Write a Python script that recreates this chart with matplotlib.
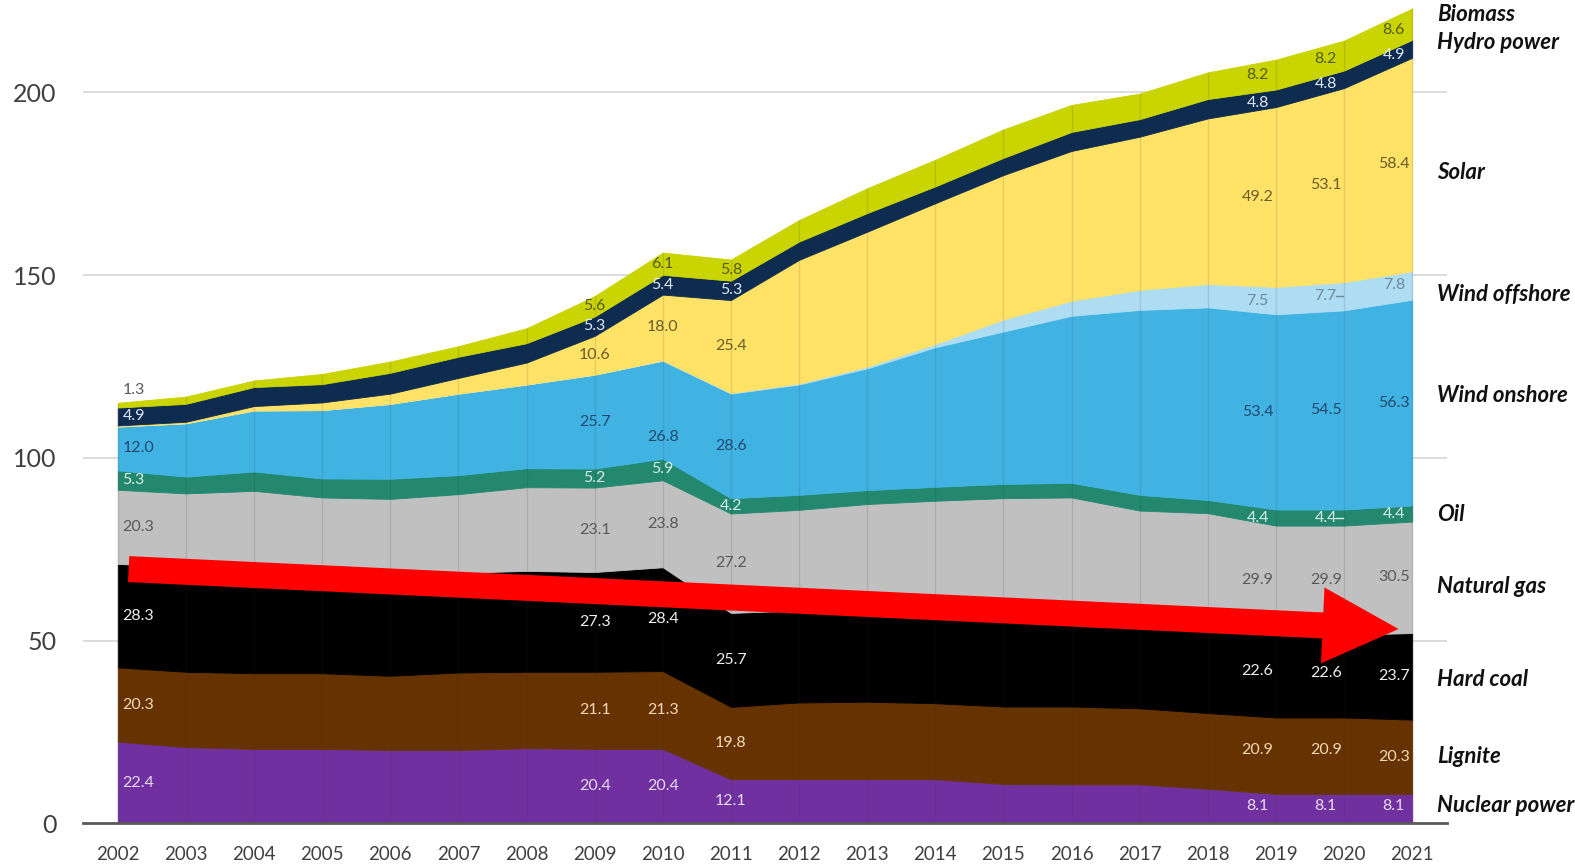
import numpy as np
import matplotlib
matplotlib.use("Agg")
import matplotlib.pyplot as plt

# Installed net generation capacity in Germany (GW)
years = list(range(2002, 2022))
nuclear = [22.4, 20.9, 20.4, 20.4, 20.1, 20.1, 20.6, 20.4, 20.4, 12.1,
           12.1, 12.1, 12.1, 10.8, 10.7, 10.7, 9.5, 8.1, 8.1, 8.1]
lignite = [20.3, 20.6, 20.7, 20.7, 20.3, 21.2, 20.9, 21.1, 21.3, 19.8,
           21.0, 21.2, 20.8, 21.2, 21.3, 20.8, 20.7, 20.9, 20.9, 20.3]
hard_coal = [28.3, 28.8, 28.7, 28.4, 28.8, 27.3, 27.6, 27.3, 28.4, 25.7,
             25.2, 25.2, 25.1, 25.0, 24.0, 23.0, 23.0, 22.6, 22.6, 23.7]
natural_gas = [20.3, 20.0, 21.2, 19.7, 19.6, 21.5, 22.9, 23.1, 23.8, 27.2,
               27.5, 28.9, 30.3, 32.0, 33.2, 31.1, 31.7, 29.9, 29.9, 30.5]
oil = [5.3, 4.6, 5.3, 5.2, 5.5, 5.2, 5.2, 5.2, 5.9, 4.2,
       4.1, 3.8, 3.8, 3.9, 4.0, 4.3, 3.6, 4.4, 4.4, 4.4]
wind_onshore = [12.0, 14.6, 16.7, 18.7, 20.5, 22.3, 22.9, 25.7, 26.8, 28.6,
                30.2, 33.3, 38.2, 41.7, 45.7, 50.6, 52.7, 53.4, 54.5, 56.3]
wind_offshore = [0.0, 0.0, 0.0, 0.0, 0.0, 0.0, 0.0, 0.0, 0.1, 0.2,
                 0.3, 0.5, 0.9, 3.3, 4.1, 5.5, 6.4, 7.5, 7.7, 7.8]
solar = [0.3, 0.4, 1.2, 2.1, 2.8, 4.3, 6.0, 10.6, 18.0, 25.4,
         33.8, 36.9, 38.5, 39.5, 41.0, 41.9, 45.3, 49.2, 53.1, 58.4]
hydro = [4.9, 4.9, 5.2, 5.0, 5.7, 5.8, 5.3, 5.3, 5.4, 5.3,
         5.0, 5.1, 4.6, 4.7, 5.2, 4.8, 5.3, 4.8, 4.8, 4.9]
biomass = [1.3, 2.0, 1.8, 2.8, 3.1, 2.9, 4.1, 5.6, 6.1, 5.8,
           5.9, 6.8, 7.3, 7.8, 7.4, 7.0, 7.3, 8.2, 8.2, 8.6]

names = ["Nuclear power", "Lignite", "Hard coal", "Natural gas", "Oil",
         "Wind onshore", "Wind offshore", "Solar", "Hydro power", "Biomass"]
series = [nuclear, lignite, hard_coal, natural_gas, oil,
          wind_onshore, wind_offshore, solar, hydro, biomass]
fill_colors = ["#7030A0", "#663300", "#000000", "#C0C0C0", "#23886E",
               "#41B3E3", "#AEDCF2", "#FFE266", "#0E2B50", "#C9D400"]
label_colors = ["#E6DCF2", "#F3D8BA", "#EEEEEE", "#595959", "#D6EEE5",
                "#22496E", "#6F8A9A", "#6A5C2C", "#DDE7F3", "#565C16"]
label_years = [2002, 2009, 2010, 2011, 2019, 2020, 2021]
tick_values = [0, 50, 100, 150, 200]

# right-hand category captions (y in GW units)
caption_y = [4.9, 18.4, 39.5, 64.8, 84.6, 117.0, 144.8, 178.0, 213.8, 221.2]

plt.rcParams["font.family"] = ["Lato", "DejaVu Sans"]

fig = plt.figure(figsize=(15.75, 8.65), dpi=100)
ax = fig.add_axes([0.0527, 0.048, 0.866, 0.952])

data = np.array(series, dtype=float)
x = np.array(years, dtype=float)
ax.stackplot(x, data, colors=fill_colors, linewidth=0.6,
             edgecolor="face", zorder=2)

tops = np.cumsum(data, axis=0)
bottoms = tops - data
totals = tops[-1]

# faint drop lines at each year
ax.vlines(x, 0, totals, colors="#303030", alpha=0.13, linewidth=1.0, zorder=3)

# value labels
x_shift = {2002: 0.07, 2009: 0.0, 2010: 0.0, 2011: 0.0,
           2019: -0.27, 2020: -0.27, 2021: -0.27}
y_nudge = {(5, 2010): -7.5, (2, 2019): 1.5, (1, 2019): 1.5,
           (2, 2020): 1.0, (1, 2020): 1.5, (8, 2019): -1.2,
           (8, 2020): -1.2, (8, 2021): -1.6, (9, 2020): -1.0,
           (9, 2021): -1.5, (0, 2019): 0.7, (0, 2020): 0.7, (0, 2021): 0.7}
for yr in label_years:
    j = years.index(yr)
    for i in range(len(series)):
        v = data[i, j]
        if v < 1.0:
            continue
        if v < 2.0:
            ypos = tops[i, j] + 3.5
            col = "#595959"
        else:
            ypos = (bottoms[i, j] + tops[i, j]) / 2 + y_nudge.get((i, yr), 0.0)
            col = label_colors[i]
        ha = "left" if yr == 2002 else "center"
        ax.text(yr + x_shift[yr], ypos, f"{v:.1f}", ha=ha, va="center",
                fontsize=11.5, color=col, zorder=5)

# small leader marks beside two of the 2020 labels
for i in (4, 6):
    j = years.index(2020)
    ym = (bottoms[i, j] + tops[i, j]) / 2
    ax.plot([2020 - 0.12, 2020 - 0.01], [ym, ym], color=label_colors[i],
            linewidth=1.0, zorder=5)

# category captions on the right
for name, yc in zip(names, caption_y):
    ax.text(2021.37, yc, name, ha="left", va="center", fontsize=16,
            fontweight="bold", fontstyle="italic", color="#111111",
            clip_on=False, zorder=6)

# trend arrow across the fossil share
ax.annotate("", xy=(2020.80, 53.2), xytext=(2002.16, 69.6),
            arrowprops=dict(arrowstyle="simple,head_length=54.7,head_width=54.7,tail_width=18.7",
                            fc="#FF0000", ec="none", shrinkA=0, shrinkB=0,
                            mutation_scale=1),
            zorder=8)

ax.set_xlim(2001.49, 2021.51)
ax.set_ylim(0, 225.3)
ax.set_xticks(years)
ax.set_xticklabels([str(y) for y in years], fontsize=13.5, color="#404040")
ax.set_yticks(tick_values)
ax.set_yticklabels([str(t) for t in tick_values], fontsize=18, color="#404040")
ax.tick_params(axis="both", length=0)
ax.tick_params(axis="y", pad=19)
ax.tick_params(axis="x", pad=16)
for t in tick_values[1:]:
    ax.axhline(t, color="#D9D9D9", linewidth=1.3, zorder=1)
for s in ("top", "right", "left"):
    ax.spines[s].set_visible(False)
ax.spines["bottom"].set_color("#595959")
ax.spines["bottom"].set_linewidth(2.0)
ax.spines["bottom"].set_zorder(4)
ax.set_facecolor("white")

fig.savefig("out.png", dpi=100)
